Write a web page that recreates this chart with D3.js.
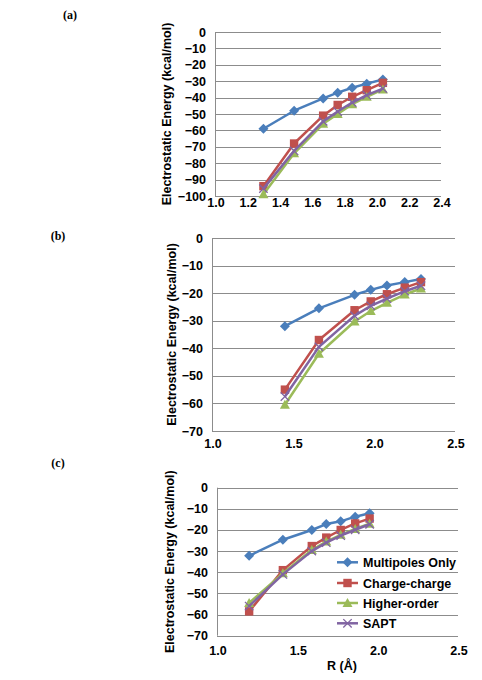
<!DOCTYPE html>
<html><head><meta charset="utf-8">
<script src="https://cdn.jsdelivr.net/npm/d3@7"></script>
<style>
html,body{margin:0;padding:0;background:#fff;}
text{font-family:"Liberation Sans",Arial,sans-serif;font-weight:bold;fill:#000;}
</style></head>
<body>
<svg id="chart" width="482" height="680"></svg>
<script>
// ---- data ----
const seriesNames = ["Multipoles Only", "Charge-charge", "Higher-order", "SAPT"];
const seriesColors = ["#4a7ebb", "#c0504d", "#9bbb59", "#8064a2"];
const seriesMarkers = ["diamond", "square", "triangle", "x"];

const xA = [1.30, 1.49, 1.67, 1.76, 1.85, 1.94, 2.04];
const multipolesA = [-59, -48, -40.5, -37, -34, -31.5, -29];
const chargeA = [-94, -68, -51, -44.5, -39.5, -35.5, -31];
const higherA = [-99, -74, -56, -50, -44, -39.5, -35];
const saptA = [-95.5, -72.5, -54.5, -48.5, -43, -38.5, -34.5];
const xTicksA = [1.0, 1.2, 1.4, 1.6, 1.8, 2.0, 2.2, 2.4];
const yTicksA = [0, -10, -20, -30, -40, -50, -60, -70, -80, -90, -100];

const xB = [1.45, 1.66, 1.88, 1.98, 2.08, 2.19, 2.29];
const multipolesB = [-32, -25.5, -20.6, -18.8, -17.2, -16, -14.9];
const chargeB = [-55, -37, -26.2, -23, -20.4, -18, -16];
const higherB = [-60.5, -42, -30.3, -26.5, -23.5, -20.5, -18.3];
const saptB = [-57.5, -39.5, -28.2, -24.6, -22, -19.3, -17.3];
const xTicksB = [1.0, 1.5, 2.0, 2.5];
const yTicksB = [0, -10, -20, -30, -40, -50, -60, -70];

const xC = [1.20, 1.41, 1.59, 1.68, 1.77, 1.86, 1.95];
const multipolesC = [-32.2, -24.6, -20, -17.2, -15.9, -13.7, -12.1];
const chargeC = [-58.5, -39, -27.6, -23.6, -20, -16.9, -14.6];
const higherC = [-54.5, -40.5, -29.5, -25.5, -22.3, -19.5, -17];
const saptC = [-56, -41, -30, -26, -22.7, -19.9, -17.3];
const xTicksC = [1.0, 1.5, 2.0, 2.5];
const yTicksC = [0, -10, -20, -30, -40, -50, -60, -70];

const panelLabels = ["(a)", "(b)", "(c)"];
const yTitle = "Electrostatic Energy (kcal/mol)";
const xTitle = "R (Å)";

// ---- layout ----
const panels = [
  {x: xA, ys: [multipolesA, chargeA, higherA, saptA], xTicks: xTicksA, yTicks: yTicksA,
   xDom: [1.0, 2.4], yDom: [-100, 0], left: 215, right: 441, top: 32, bottom: 196,
   xLabY: 207, yTitleX: 167, label: {x: 70, y: 19}},
  {x: xB, ys: [multipolesB, chargeB, higherB, saptB], xTicks: xTicksB, yTicks: yTicksB,
   xDom: [1.0, 2.5], yDom: [-70, 0], left: 212, right: 455, top: 238, bottom: 431,
   xLabY: 447.5, yTitleX: 172, label: {x: 58, y: 240}},
  {x: xC, ys: [multipolesC, chargeC, higherC, saptC], xTicks: xTicksC, yTicks: yTicksC,
   xDom: [1.0, 2.5], yDom: [-70, 0], left: 217, right: 458, top: 487.7, bottom: 635.7,
   xLabY: 654.5, yTitleX: 170, label: {x: 58, y: 467}, legend: true, xTitle: true}
];

const svg = d3.select("#chart");
const gridColor = "#8c8c8c";

function marker(g, type, color, cx, cy) {
  if (type === "diamond") {
    g.append("path").attr("d", `M${cx},${cy-5}L${cx+5},${cy}L${cx},${cy+5}L${cx-5},${cy}Z`).attr("fill", color);
  } else if (type === "square") {
    g.append("rect").attr("x", cx-4.2).attr("y", cy-4.2).attr("width", 8.4).attr("height", 8.4).attr("fill", color);
  } else if (type === "triangle") {
    g.append("path").attr("d", `M${cx},${cy-5}L${cx+5},${cy+4}L${cx-5},${cy+4}Z`).attr("fill", color);
  } else {
    g.append("path").attr("d", `M${cx-4.2},${cy-4.2}L${cx+4.2},${cy+4.2}M${cx-4.2},${cy+4.2}L${cx+4.2},${cy-4.2}`)
      .attr("stroke", color).attr("stroke-width", 1.3).attr("fill", "none");
  }
}

panels.forEach((p, pi) => {
  const xs = d3.scaleLinear().domain(p.xDom).range([p.left, p.right]);
  const ys = d3.scaleLinear().domain(p.yDom).range([p.bottom, p.top]);
  const g = svg.append("g");

  // gridlines
  g.append("g").selectAll("line").data(p.yTicks.filter(t => t !== p.yDom[0])).join("line")
    .attr("x1", p.left).attr("x2", p.right)
    .attr("y1", d => Math.round(ys(d)) + 0.5).attr("y2", d => Math.round(ys(d)) + 0.5)
    .attr("stroke", gridColor).attr("stroke-width", 1);

  // axes lines
  g.append("line").attr("x1", p.left).attr("x2", p.right)
    .attr("y1", Math.round(p.bottom) + 0.5).attr("y2", Math.round(p.bottom) + 0.5)
    .attr("stroke", gridColor).attr("stroke-width", 1);
  g.append("line").attr("x1", Math.round(p.left) + 0.5).attr("x2", Math.round(p.left) + 0.5)
    .attr("y1", p.top).attr("y2", p.bottom)
    .attr("stroke", gridColor).attr("stroke-width", 1);

  // y tick labels
  g.append("g").selectAll("text").data(p.yTicks).join("text")
    .attr("x", p.left - 9).attr("y", d => ys(d) + 4.5)
    .attr("text-anchor", "end").attr("font-size", "12.5px")
    .text(d => d3.format("d")(d));

  // x tick labels
  g.append("g").selectAll("text").data(p.xTicks).join("text")
    .attr("x", d => xs(d) + 1).attr("y", p.xLabY)
    .attr("text-anchor", "middle").attr("font-size", "12.5px")
    .text(d => d3.format(".1f")(d));

  // y title
  const cy = (p.top + p.bottom) / 2;
  g.append("text").attr("transform", `translate(${p.yTitleX},${cy}) rotate(-90)`)
    .attr("text-anchor", "middle").attr("dy", "0.35em").attr("font-size", "12.5px")
    .text(yTitle);

  // panel label
  g.append("text").attr("x", p.label.x).attr("y", p.label.y)
    .attr("text-anchor", "middle").attr("font-size", "12px")
    .style("font-family", "'Liberation Serif','Times New Roman',serif")
    .text(panelLabels[pi]);

  if (p.xTitle) {
    g.append("text").attr("x", 342).attr("y", 670).attr("text-anchor", "middle")
      .attr("font-size", "12.5px").text(xTitle);
  }

  // series
  const line = d3.line().x(d => xs(d[0])).y(d => ys(d[1]));
  p.ys.forEach((vals, si) => {
    const pts = p.x.map((xv, i) => [xv, vals[i]]);
    const sg = g.append("g");
    sg.append("path").datum(pts).attr("d", line).attr("fill", "none")
      .attr("stroke", seriesColors[si]).attr("stroke-width", 2.5).attr("stroke-linejoin", "round");
    pts.forEach(d => marker(sg, seriesMarkers[si], seriesColors[si], xs(d[0]), ys(d[1])));
  });

  if (p.legend) {
    const lg = g.append("g");
    const ly = [562.3, 583, 603, 623.3];
    seriesNames.forEach((n, si) => {
      lg.append("line").attr("x1", 337).attr("x2", 358).attr("y1", ly[si]).attr("y2", ly[si])
        .attr("stroke", seriesColors[si]).attr("stroke-width", 2.5);
      marker(lg, seriesMarkers[si], seriesColors[si], 347.5, ly[si]);
      lg.append("text").attr("x", 363).attr("y", ly[si] + 4.5).attr("font-size", "12.5px").text(n);
    });
  }
});
</script>
</body></html>
